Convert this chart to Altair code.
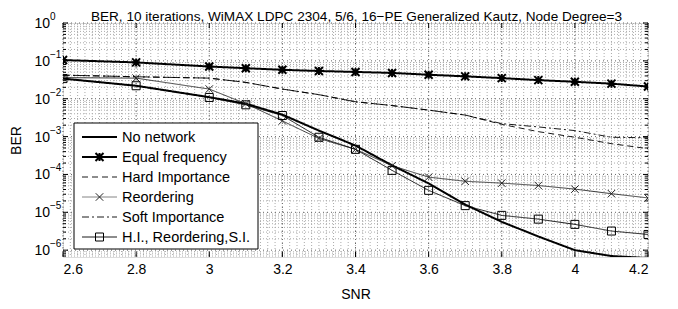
import altair as alt
import pandas as pd

# ---------------- data ----------------
snr = [2.6, 2.8, 3.0, 3.1, 3.2, 3.3, 3.4, 3.5, 3.6, 3.7, 3.8, 3.9, 4.0, 4.1, 4.2]

ber_no_network = [0.034, 0.022, 0.011, 0.0074, 0.0038, 0.00144, 0.00058, 0.000174,
                  5.8e-5, 1.6e-5, 5.6e-6, 2.3e-6, 1.0e-6, 7.0e-7, 6.2e-7]
ber_equal_freq = [0.105, 0.091, 0.071, 0.064, 0.058, 0.054, 0.051, 0.048,
                  0.043, 0.039, 0.035, 0.031, 0.028, 0.025, 0.021]
ber_hard_imp = [0.042, 0.038, 0.035, 0.027, 0.018, 0.0128, 0.0083, 0.0066,
                0.0050, 0.0037, 0.0021, 0.00135, 0.00096, 0.00065, 0.00048]
ber_reordering = [0.036, 0.035, 0.018, 0.0074, 0.0026, 0.00089, 0.00046, 0.00017,
                  8.5e-5, 6.6e-5, 5.9e-5, 5.1e-5, 4.1e-5, 3.1e-5, 2.4e-5]
ber_soft_imp = [0.042, 0.038, 0.035, 0.027, 0.018, 0.0128, 0.0083, 0.0066,
                0.0050, 0.0037, 0.0022, 0.0018, 0.00144, 0.00096, 0.00093]
ber_combined = [0.034, 0.022, 0.0108, 0.0069, 0.0036, 0.00096, 0.00046, 0.000128,
                3.8e-5, 1.5e-5, 8.3e-6, 6.6e-6, 4.8e-6, 3.2e-6, 2.6e-6]

series_names = ["No network", "Equal frequency", "Hard Importance",
                "Reordering", "Soft Importance", "H.I., Reordering,S.I."]
series_values = [ber_no_network, ber_equal_freq, ber_hard_imp,
                 ber_reordering, ber_soft_imp, ber_combined]

x_tick_values = [2.6, 2.8, 3, 3.2, 3.4, 3.6, 3.8, 4, 4.2]
y_decades = [1, 1e-1, 1e-2, 1e-3, 1e-4, 1e-5, 1e-6]
y_exponents = ["0", "\u22121", "\u22122", "\u22123", "\u22124", "\u22125", "\u22126"]

title_text = "BER, 10 iterations, WiMAX LDPC 2304, 5/6, 16\u2212PE Generalized Kautz, Node Degree=3"

# ---------------- styles ----------------
FONT = "Liberation Sans"
W, H = 585, 234
Y_MIN = 6.6e-7

X_PATH = "M-1,-1L1,1M-1,1L1,-1"
STAR_PATH = "M-1,-1L1,1M-1,1L1,-1M-1,0L1,0M0,-1L0,1"
styles = {
    "No network": dict(color="black", width=2.0, dash=[1, 0], shape=None),
    "Equal frequency": dict(color="black", width=2.0, dash=[1, 0], shape=STAR_PATH, mwidth=2.0, size=64),
    "Hard Importance": dict(color="black", width=0.9, dash=[6, 4], shape=None),
    "Reordering": dict(color="#222222", width=0.9, dash=[1, 0], shape=X_PATH, mwidth=1.0, size=56),
    "Soft Importance": dict(color="black", width=0.9, dash=[7, 3, 2, 3], shape=None),
    "H.I., Reordering,S.I.": dict(color="black", width=0.9, dash=[1, 0], shape="square", mwidth=1.0, size=64),
}

rows = []
for name, vals in zip(series_names, series_values):
    for s, b in zip(snr, vals):
        rows.append({"series": name, "snr": s, "ber": b})
df = pd.DataFrame(rows)

xs = alt.Scale(domain=[2.6, 4.2], nice=False, zero=False)
ys = alt.Scale(type="log", domain=[Y_MIN, 1], nice=False)

# grid / tick positions
x_minor = [round(2.6 + 0.02 * i, 2) for i in range(81)]
y_minor = [m * 10.0 ** e for e in range(-7, 0) for m in range(2, 10) if m * 10.0 ** e >= Y_MIN]

df_xminor = pd.DataFrame({"v": x_minor})
df_xmajor = pd.DataFrame({"v": x_tick_values})
df_yminor = pd.DataFrame({"v": y_minor})
df_ymajor = pd.DataFrame({"v": y_decades, "e": y_exponents})

layers = []

# axes base (labels and titles)
axis_base = alt.Chart(df_xmajor).mark_point(opacity=0).encode(
    x=alt.X("v:Q", scale=xs,
            axis=alt.Axis(values=x_tick_values, labelExpr="'' + datum.value",
                          grid=False, ticks=False, domain=False,
                          labelFontSize=14, labelFont=FONT, labelColor="black",
                          labelPadding=5, title="SNR", titleFont=FONT,
                          titleFontSize=14, titleFontWeight="normal",
                          titleColor="black", titlePadding=11)),
    y=alt.Y("v:Q", scale=ys,
            axis=alt.Axis(labels=False, grid=False, ticks=False, domain=False,
                          title="BER", titleFont=FONT, titleFontSize=14,
                          titleFontWeight="normal", titleColor="black",
                          titlePadding=40)),
)
layers.append(axis_base)

# minor grid
layers.append(alt.Chart(df_xminor).mark_rule(color="#aaaaaa", strokeWidth=1, strokeDash=[1, 2]).encode(
    x=alt.X("v:Q", scale=xs)))
layers.append(alt.Chart(df_yminor).mark_rule(color="#aaaaaa", strokeWidth=1, strokeDash=[1, 2]).encode(
    y=alt.Y("v:Q", scale=ys)))
# major grid
layers.append(alt.Chart(df_xmajor).mark_rule(color="#666666", strokeWidth=1, strokeDash=[1, 3]).encode(
    x=alt.X("v:Q", scale=xs)))
layers.append(alt.Chart(df_ymajor).mark_rule(color="#666666", strokeWidth=1, strokeDash=[1, 3]).encode(
    y=alt.Y("v:Q", scale=ys)))

# inward ticks
for y0, y1 in [(H, H - 5), (0, 5)]:
    layers.append(alt.Chart(df_xmajor).mark_rule(color="black", strokeWidth=1).encode(
        x=alt.X("v:Q", scale=xs), y=alt.value(y0), y2=alt.value(y1)))
for x0, x1, dfv in [(0, 5, df_ymajor), (W, W - 5, df_ymajor), (0, 3, df_yminor), (W, W - 3, df_yminor)]:
    layers.append(alt.Chart(dfv).mark_rule(color="black", strokeWidth=1).encode(
        y=alt.Y("v:Q", scale=ys), x=alt.value(x0), x2=alt.value(x1)))

# y tick labels: 10 with superscript exponent
layers.append(alt.Chart(df_ymajor).mark_text(align="right", baseline="middle", fontSize=14,
                                              font=FONT, color="black", dy=1).encode(
    y=alt.Y("v:Q", scale=ys), x=alt.value(-13), text=alt.value("10")))
layers.append(alt.Chart(df_ymajor).mark_text(align="left", baseline="middle", fontSize=10,
                                              font=FONT, color="black", dy=-6).encode(
    y=alt.Y("v:Q", scale=ys), x=alt.value(-13), text="e:N"))

# data series
for name in series_names:
    st = styles[name]
    d = df[df["series"] == name]
    layers.append(alt.Chart(d).mark_line(color=st["color"], strokeWidth=st["width"],
                                         strokeDash=st["dash"], clip=True).encode(
        x=alt.X("snr:Q", scale=xs), y=alt.Y("ber:Q", scale=ys)))
    if st["shape"]:
        layers.append(alt.Chart(d).mark_point(shape=st["shape"], filled=False, color=st["color"],
                                              strokeWidth=st["mwidth"], size=st["size"],
                                              opacity=1, clip=True).encode(
            x=alt.X("snr:Q", scale=xs), y=alt.Y("ber:Q", scale=ys)))

# legend
df_dummy = pd.DataFrame({"k": [0]})
layers.append(alt.Chart(df_dummy).mark_rect(fill="white", stroke="black", strokeWidth=1).encode(
    x=alt.value(11), x2=alt.value(195), y=alt.value(100), y2=alt.value(226)))
for i, name in enumerate(series_names):
    st = styles[name]
    yy = 114 + 20 * i
    leg_color = "#777777" if name == "Reordering" else st["color"]
    layers.append(alt.Chart(df_dummy).mark_rule(color=leg_color, strokeWidth=st["width"],
                                                strokeDash=st["dash"]).encode(
        x=alt.value(19), x2=alt.value(54), y=alt.value(yy)))
    if st["shape"]:
        layers.append(alt.Chart(df_dummy).mark_point(shape=st["shape"], filled=False, color=st["color"],
                                                     strokeWidth=st["mwidth"], size=st["size"],
                                                     opacity=1).encode(
            x=alt.value(36.5), y=alt.value(yy)))
    layers.append(alt.Chart(pd.DataFrame({"label": [name]})).mark_text(
        align="left", baseline="middle", fontSize=14.5, font=FONT, color="black").encode(
        x=alt.value(59), y=alt.value(yy + 1), text="label:N"))

# chart title as a text mark centred over the plot
layers.append(alt.Chart(pd.DataFrame({"t": [title_text]})).mark_text(
    align="center", baseline="alphabetic", fontSize=13.6, font=FONT, color="black").encode(
    x=alt.value(W / 2 + 1), y=alt.value(-2.5), text="t:N"))

chart = alt.layer(*layers).properties(
    width=W, height=H,
    padding={"left": 55, "top": 15, "right": 22, "bottom": 44},
    autosize=alt.AutoSizeParams(type="none"),
).configure_view(stroke="black", strokeWidth=1, fill="white").configure(background="white")

chart.save("out.html", embed_options={"renderer": "svg", "actions": False})
